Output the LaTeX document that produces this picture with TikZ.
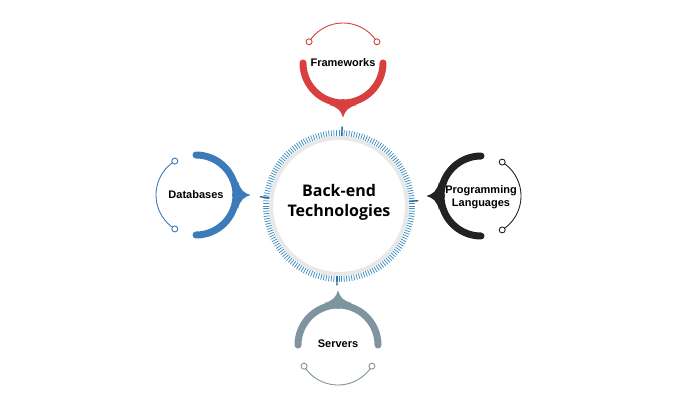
\documentclass[tikz,border=0pt]{standalone}
\usepackage{fontspec}
\usetikzlibrary{calc}
\setmainfont{Lato}
\newfontfamily\centerfont{Open Sans}
\newfontfamily\labelfont{Liberation Sans}
\definecolor{fwred}{HTML}{D83F3F}
\definecolor{dbblue}{HTML}{3B7BBA}
\definecolor{pldark}{HTML}{222222}
\definecolor{svgray}{HTML}{7E949F}
\definecolor{tickblue}{HTML}{3C8DC2}
\definecolor{majblue}{HTML}{2A6A98}
\definecolor{ringgray}{HTML}{E8E8E8}
\tikzset{
  thickarc/.style={line width=7pt, line cap=round},
  thinarc/.style={line width=0.9pt},
  endball/.style={circle, draw, line width=0.9pt, fill=white, minimum size=6pt, inner sep=0pt},
  satlabel/.style={font=\labelfont\bfseries\fontsize{11}{12}\selectfont, align=center, text=black},
  minortick/.style={tickblue, line width=0.75pt},
  majortick/.style={majblue, line width=1.4pt},
}
% #1 name, #2 center, #3 direction to ring, #4 colour
\newcommand{\satshape}[4]{%
  \begin{scope}[shift={#2}, rotate=#3]
    \draw[#4, thickarc] (-90:40) arc[start angle=-90, end angle=90, radius=40];
    \fill[#4] (42,-14) .. controls (44,-5) and (48,-2) .. (54.5,0)
              .. controls (48,2) and (44,5) .. (42,14) -- (36,0) -- cycle;
    \draw[#4, thinarc] (122:40) arc[start angle=122, end angle=238, radius=40];
    \node[endball, draw=#4] (#1-a) at (122:40) {};
    \node[endball, draw=#4] (#1-b) at (238:40) {};
  \end{scope}}
\begin{document}
\begin{tikzpicture}[x=1pt, y=1pt]
\useasboundingbox (0,0) rectangle (700,408);
% central ring
\coordinate (c) at (339,202);
\foreach \a in {0,2,...,358} \draw[minortick] ($(c)+(\a:70)$) -- ($(c)+(\a:76)$);
\foreach \a in {87.7,173.3,268.5,3.8} \draw[majortick] ($(c)+(\a:70)$) -- ($(c)+(\a:79.5)$);
\node[circle, draw=ringgray, line width=4pt, fill=white, minimum size=136pt, inner sep=0pt] (hub) at (c) {};
\node[font=\centerfont\bfseries\fontsize{16}{20}\selectfont, align=center] (hubtext) at ($(hub.center)+(0,4)$) {Back-end\\Technologies};
% satellites
\satshape{fw}{(343,345)}{-90}{fwred}
\satshape{db}{(196,213)}{0}{dbblue}
\satshape{pl}{(481,212)}{180}{pldark}
\satshape{sv}{(338,63)}{90}{svgray}
\node[satlabel] (fwtext) at (343,345) {Frameworks};
\node[satlabel] (dbtext) at (196,213) {Databases};
\node[satlabel, font=\labelfont\bfseries\fontsize{11}{12.5}\selectfont] (pltext) at (481,211) {Programming\\Languages};
\node[satlabel] (svtext) at (338,64) {Servers};
\end{tikzpicture}
\end{document}
